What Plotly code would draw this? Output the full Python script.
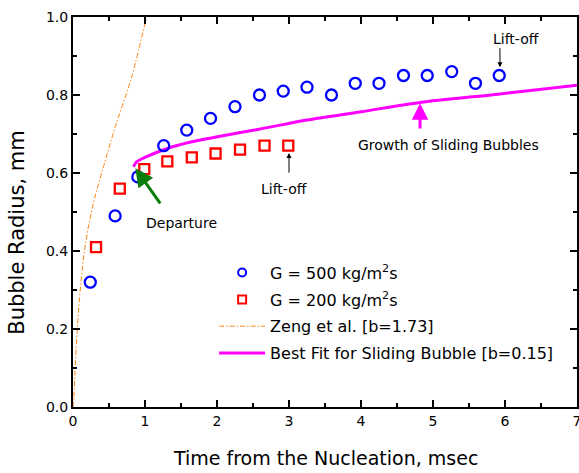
import plotly.graph_objects as go

# G = 500 kg/m2s (blue circles)
t500 = [0.24, 0.585, 0.90, 1.26, 1.58, 1.91, 2.25, 2.59, 2.92, 3.25, 3.59, 3.92, 4.25, 4.59, 4.92, 5.26, 5.59, 5.92]
r500 = [0.32, 0.49, 0.59, 0.67, 0.71, 0.74, 0.77, 0.80, 0.81, 0.82, 0.80, 0.83, 0.83, 0.85, 0.85, 0.86, 0.83, 0.85]

# G = 200 kg/m2s (red squares)
t200 = [0.32, 0.65, 0.99, 1.31, 1.65, 1.98, 2.32, 2.66, 2.99]
r200 = [0.41, 0.56, 0.61, 0.63, 0.64, 0.65, 0.66, 0.67, 0.67]

# Zeng et al. [b=1.73]
t_zeng = [0.0, 0.014, 0.03, 0.06, 0.105, 0.175, 0.28, 0.43, 0.59, 0.82, 1.02]
r_zeng = [0.0, 0.03, 0.10, 0.20, 0.31, 0.42, 0.52, 0.62, 0.72, 0.85, 1.0]

# Best fit for sliding bubble [b=0.15]
t_fit = [0.84, 0.88, 1.0, 1.28, 1.65, 2.12, 2.58, 3.25, 4.0, 4.82, 5.9, 7.0]
r_fit = [0.616, 0.628, 0.640, 0.661, 0.680, 0.697, 0.712, 0.736, 0.757, 0.781, 0.802, 0.825]

x_ticks = [0, 1, 2, 3, 4, 5, 6, 7]
y_ticks = [0.0, 0.2, 0.4, 0.6, 0.8, 1.0]

FONT = "DejaVu Sans"
ORANGE = "#FF8512"
DASHDOT = "5px,2px,1.5px,2px"

fig = go.Figure()

fig.add_trace(go.Scatter(x=t_zeng, y=r_zeng, mode="lines", showlegend=False,
                         line=dict(color=ORANGE, width=1, dash=DASHDOT, shape="spline")))
fig.add_trace(go.Scatter(x=t_fit, y=r_fit, mode="lines", showlegend=False,
                         line=dict(color="#FF00FF", width=3, shape="spline", smoothing=0.8)))
fig.add_trace(go.Scatter(x=t500, y=r500, mode="markers", showlegend=False,
                         marker=dict(symbol="circle-open", size=11, color="#0000FF", line=dict(width=2.3))))
fig.add_trace(go.Scatter(x=t200, y=r200, mode="markers", showlegend=False,
                         marker=dict(symbol="square-open", size=10, color="#FF0000", line=dict(width=2.3))))

# legend entries
fig.add_trace(go.Scatter(x=[None], y=[None], mode="markers", name="G = 500 kg/m<sup>2</sup>s", legendgroup="a",
                         marker=dict(symbol="circle-open", size=8, color="#0000FF", line=dict(width=2))))
fig.add_trace(go.Scatter(x=[None], y=[None], mode="markers", name="G = 200 kg/m<sup>2</sup>s", legendgroup="b",
                         marker=dict(symbol="square-open", size=8, color="#FF0000", line=dict(width=2))))
fig.add_trace(go.Scatter(x=[None], y=[None], mode="lines", name="Zeng et al. [b=1.73]", legendgroup="c",
                         line=dict(color=ORANGE, width=1, dash=DASHDOT)))
fig.add_trace(go.Scatter(x=[None], y=[None], mode="lines", name="Best Fit for Sliding Bubble [b=0.15]",
                         legendgroup="d", line=dict(color="#FF00FF", width=3)))

anns = []
# green departure arrow
anns.append(dict(x=0.866, y=0.612, ax=1.226, ay=0.518, xref="x", yref="y", axref="x", ayref="y",
                 text="", showarrow=True, arrowhead=2, arrowsize=1.2, arrowwidth=3, arrowcolor="#0B7D0B"))
anns.append(dict(x=0.98, y=0.472, xref="x", yref="y", text="Departure", showarrow=False,
                 xanchor="left", yanchor="middle", font=dict(family=FONT, size=14, color="black")))
# lower lift-off
anns.append(dict(x=3.0, y=0.651, ax=3.0, ay=0.597, xref="x", yref="y", axref="x", ayref="y",
                 text="", showarrow=True, arrowhead=2, arrowsize=1, arrowwidth=1, arrowcolor="black"))
anns.append(dict(x=2.93, y=0.56, xref="x", yref="y", text="Lift-off", showarrow=False,
                 xanchor="center", yanchor="middle", font=dict(family=FONT, size=14, color="black")))
# upper lift-off
anns.append(dict(x=5.93, y=0.871, ax=5.93, ay=0.924, xref="x", yref="y", axref="x", ayref="y",
                 text="", showarrow=True, arrowhead=2, arrowsize=1, arrowwidth=1, arrowcolor="black"))
anns.append(dict(x=6.15, y=0.943, xref="x", yref="y", text="Lift-off", showarrow=False,
                 xanchor="center", yanchor="middle", font=dict(family=FONT, size=14, color="black")))
# magenta growth arrow
anns.append(dict(x=4.82, y=0.779, ax=4.82, ay=0.71, xref="x", yref="y", axref="x", ayref="y",
                 text="", showarrow=True, arrowhead=2, arrowsize=1.1, arrowwidth=3, arrowcolor="#FF00FF"))
anns.append(dict(x=5.21, y=0.672, xref="x", yref="y", text="Growth of Sliding Bubbles", showarrow=False,
                 xanchor="center", yanchor="middle", font=dict(family=FONT, size=14, color="black")))
# axis titles
anns.append(dict(x=0.5, y=-0.132, xref="paper", yref="paper", text="Time from the Nucleation, msec",
                 showarrow=False, xanchor="center", yanchor="middle",
                 font=dict(family=FONT, size=19, color="black")))
anns.append(dict(x=(16.7 - 73) / 504, y=0.446, xref="paper", yref="paper", text="Bubble Radius, mm",
                 showarrow=False, xanchor="center", yanchor="middle", textangle=-90,
                 font=dict(family=FONT, size=21, color="black")))

fig.update_layout(
    width=579, height=473,
    margin=dict(l=73, r=2, t=17, b=66),
    paper_bgcolor="white", plot_bgcolor="white",
    font=dict(family=FONT, size=14, color="black"),
    annotations=anns,
    legend=dict(x=0.280, y=0.388, xanchor="left", yanchor="top", bgcolor="rgba(0,0,0,0)",
                font=dict(family=FONT, size=16, color="black"), tracegroupgap=3, itemwidth=46),
)
fig.update_xaxes(range=[0, 7], tickvals=x_ticks, showgrid=False, zeroline=False, automargin=False,
                 showline=True, linecolor="black", linewidth=2, mirror="allticks",
                 ticks="inside", ticklen=7, tickwidth=1.5, tickcolor="black", ticklabeloverflow="allow",
                 minor=dict(dtick=0.5, ticks="inside", ticklen=4, tickwidth=1.5, tickcolor="black"),
                 tickfont=dict(family=FONT, size=14))
fig.update_yaxes(range=[0, 1.0], tickvals=y_ticks, tickformat=".1f", showgrid=False, zeroline=False,
                 automargin=False,
                 showline=True, linecolor="black", linewidth=2, mirror="allticks",
                 ticks="inside", ticklen=7, tickwidth=1.5, tickcolor="black",
                 minor=dict(dtick=0.1, ticks="inside", ticklen=4, tickwidth=1.5, tickcolor="black"),
                 tickfont=dict(family=FONT, size=14))

fig.write_html("out.html", config={"displayModeBar": False},
               post_script="document.body.style.margin='0';document.body.style.overflow='hidden';")
